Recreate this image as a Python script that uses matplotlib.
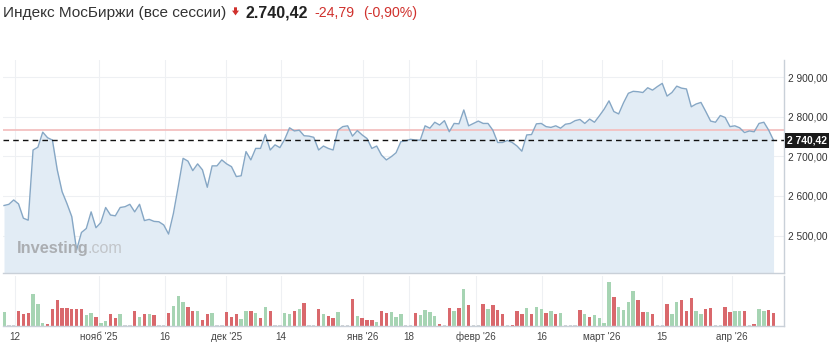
import matplotlib

matplotlib.use("Agg")
import matplotlib.pyplot as plt
from matplotlib.patches import Polygon
import numpy as np

plt.rcParams["font.family"] = ["Liberation Sans", "DejaVu Sans"]

W, H = 834, 343

# closing values, one per session
price = [
    2576, 2579, 2590, 2580, 2544, 2539, 2716, 2723, 2761, 2747,
    2741, 2666, 2611, 2581, 2548, 2464, 2508, 2518, 2560, 2520,
    2533, 2571, 2552, 2550, 2571, 2573, 2579, 2560, 2579, 2538,
    2541, 2536, 2535, 2527, 2504, 2556, 2624, 2695, 2688, 2664,
    2681, 2666, 2622, 2676, 2676, 2691, 2681, 2674, 2649, 2651,
    2712, 2691, 2720, 2720, 2755, 2716, 2729, 2722, 2743, 2772,
    2764, 2766, 2752, 2751, 2748, 2716, 2726, 2720, 2716, 2766,
    2775, 2777, 2751, 2765, 2754, 2745, 2720, 2726, 2703, 2691,
    2699, 2709, 2737, 2739, 2743, 2741, 2741, 2777, 2771, 2786,
    2779, 2790, 2762, 2783, 2782, 2817, 2777, 2783, 2789, 2783,
    2783, 2766, 2735, 2735, 2740, 2735, 2726, 2713, 2754, 2755,
    2782, 2783, 2775, 2773, 2777, 2771, 2781, 2783, 2790, 2793,
    2783, 2794, 2786, 2802, 2819, 2840, 2813, 2807, 2835, 2859,
    2864, 2863, 2861, 2873, 2867, 2876, 2884, 2852, 2861, 2877,
    2872, 2870, 2825, 2832, 2836, 2813, 2789, 2786, 2803, 2798,
    2775, 2777, 2772, 2760, 2764, 2762, 2783, 2786, 2766, 2740.42,
]

# relative volume per session
volume = [
    42, 2, 2, 46, 37, 39, 95, 66, 9, 5,
    51, 78, 53, 54, 51, 51, 50, 33, 39, 27,
    9, 16, 35, 23, 37, 2, 2, 44, 28, 37,
    35, 33, 2, 2, 40, 60, 90, 73, 56, 46,
    46, 18, 35, 38, 2, 2, 42, 27, 36, 20,
    44, 45, 38, 23, 56, 45, 2, 2, 40, 35,
    45, 51, 68, 2, 2, 52, 37, 30, 23, 42,
    2, 2, 80, 30, 23, 18, 18, 13, 44, 38,
    42, 28, 35, 2, 2, 38, 33, 48, 43, 30,
    6, 2, 54, 46, 54, 110, 64, 2, 2, 66,
    51, 62, 49, 35, 2, 3, 44, 37, 54, 35,
    57, 50, 40, 44, 37, 38, 2, 2, 2, 47,
    37, 26, 32, 23, 8, 133, 88, 58, 47, 73,
    104, 78, 42, 41, 37, 2, 2, 66, 35, 73,
    77, 45, 85, 45, 37, 51, 53, 2, 2, 57,
    42, 44, 44, 44, 2, 5, 51, 45, 47, 38,
]

# u = up session, d = down session, n = (almost) no trading
direction = (
    "u n n d d d u u u d "
    "d d d d d d d u u d "
    "u u d d u n n d u d "
    "u d n n d u u u d d "
    "u d d u n n d d d u "
    "u d u d u d n n u u "
    "d u d n n d u d d u "
    "n n d u d d d u d d "
    "u u u n n d u u u u "
    "d n d u d u d n n d "
    "u d d d n d d d u d "
    "u u d u d u n n n d "
    "u d u u u u d u u u "
    "u d d u d n n d u u "
    "d d d u u d d n n d "
    "d u u d n d u u d d"
).split()

tick_pos = [2.27, 19.6, 33.3, 45.9, 57.2, 74.2, 83.7, 97.5, 111.2, 123.6, 136.0, 150.4]
tick_labels = ["12", "нояб '25", "16", "дек '25", "14", "янв '26", "18",
               "февр '26", "16", "март '26", "15", "апр '26"]
price_ticks = [2500, 2600, 2700, 2800, 2900]

last_price = 2740.42
prev_close = 2765.21
change = -24.79
change_pct = -0.90

LINE = "#86a7c5"
FILL = "#e2ecf5"
GRID = "#eef0f3"
AXIS = "#c9d0d8"
UP = "#a6d4b3"
DOWN = "#d9686c"
FLAT = "#cfd3d6"
RED = "#d0312d"
TXT = "#333333"


def rect(x0, y0, x1, y1):
    return [x0 / W, 1 - y1 / H, (x1 - x0) / W, (y1 - y0) / H]


def fmt(v):
    s = f"{v:,.2f}"
    return s.replace(",", " ").replace(".", ",")


fig = plt.figure(figsize=(W / 100, H / 100), dpi=100)
x = np.arange(len(price))
xlim = (-0.21, 161.16)

# --- price panel
ax = fig.add_axes(rect(3, 60, 784, 273))
ax.set_xlim(*xlim)
ax.set_ylim(2405.8, 2943)
ax.fill_between(x, price, 2405.8, color=FILL, lw=0, zorder=1)
ax.plot(x, price, color=LINE, lw=1.0, zorder=3)
ax.axhline(prev_close, color="#f3c0c0", lw=1.3, zorder=2)
ax.axhline(last_price, color="#111111", lw=1.0, ls=(0, (4, 3)), zorder=4)
ax.set_xticks(tick_pos)
ax.set_yticks(price_ticks)
ax.grid(True, color=GRID, lw=0.8, zorder=0)
ax.set_axisbelow(True)
ax.tick_params(axis="x", length=0, labelbottom=False)
ax.yaxis.tick_right()
ax.tick_params(axis="y", length=0, pad=3, labelsize=7.3, labelcolor=TXT)
ax.set_yticklabels([fmt(v) for v in price_ticks])
for side in ("top", "left"):
    ax.spines[side].set_visible(False)
for side in ("bottom", "right"):
    ax.spines[side].set_color(AXIS)
    ax.spines[side].set_linewidth(1.0)

ax.annotate(fmt(last_price), xy=(1, last_price), xycoords=ax.get_yaxis_transform(),
            xytext=(2.4, 0), textcoords="offset points", ha="left", va="center",
            fontsize=7.4, fontweight="bold", color="white", zorder=6,
            bbox=dict(boxstyle="square,pad=0.22", fc="#1a1a1a", ec="none"))

# --- volume panel
vx = fig.add_axes(rect(3, 276, 784, 326))
vx.set_xlim(*xlim)
vx.set_ylim(0, 150)
colors = [UP if d == "u" else DOWN if d == "d" else FLAT for d in direction]
vx.bar(x, volume, width=0.7, color=colors, lw=0, zorder=2)
vx.set_xticks(tick_pos)
vx.set_xticklabels(tick_labels)
vx.set_yticks([])
vx.grid(True, axis="x", color=GRID, lw=0.8, zorder=0)
vx.set_axisbelow(True)
vx.tick_params(axis="x", length=0, pad=10.3, labelsize=7.1, labelcolor="#444444")
for lab in vx.get_xticklabels():
    lab.set_verticalalignment("baseline")  # keep "февр" in line with the rest
for side in ("top", "left"):
    vx.spines[side].set_visible(False)
for side in ("bottom", "right"):
    vx.spines[side].set_color(AXIS)
    vx.spines[side].set_linewidth(1.0)

# --- header
fig.text(3 / W, 1 - 17 / H, "Индекс МосБиржи (все сессии)", fontsize=11.1,
         color=TXT, ha="left", va="baseline")
# small down arrow icon
arrow = [(234.0, 7.3), (237.0, 7.3), (237.0, 10.6), (239.0, 10.6), (235.5, 15.4),
         (232.0, 10.6), (234.0, 10.6)]
fig.patches.append(Polygon([(px / W, 1 - py / H) for px, py in arrow], closed=True,
                           fc=RED, ec="none", transform=fig.transFigure, figure=fig))
fig.text(245 / W, 1 - 17 / H, f"{last_price:,.2f}".replace(",", " ").replace(".", ",").replace(" ", "."),
         fontsize=11.5, fontweight="bold", color="#222222", ha="left", va="baseline")
fig.text(314 / W, 1 - 17 / H, f"{change:.2f}".replace(".", ","),
         fontsize=10.2, color=RED, ha="left", va="baseline")
fig.text(363 / W, 1 - 17 / H, f"({change_pct:.2f}%)".replace(".", ","),
         fontsize=10.2, color=RED, ha="left", va="baseline")

# --- watermark
fig.text(16.7 / W, 1 - 253.3 / H, "Investing", fontsize=11.8, fontweight="bold",
         color="#abaeb2", ha="left", va="baseline", zorder=5)
fig.text(87.7 / W, 1 - 253.3 / H, ".com", fontsize=11.6, color="#c2c5c9",
         ha="left", va="baseline", zorder=5)

fig.savefig("out.png", dpi=100)
